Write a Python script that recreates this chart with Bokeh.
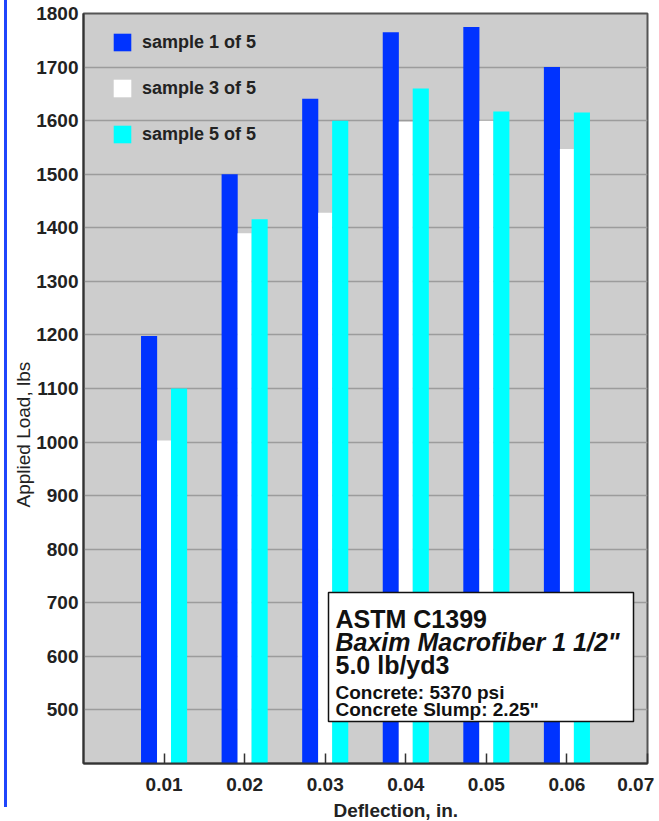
from bokeh.plotting import figure
from bokeh.models import (Range1d, FixedTicker, Label, BoxAnnotation, Title,
                          Legend, LegendItem, Div, ColumnDataSource)
from bokeh.layouts import row
from bokeh.transform import dodge
from bokeh.embed import file_html
from bokeh.resources import INLINE

# ---------------- data ----------------
deflection = [0.01, 0.02, 0.03, 0.04, 0.05, 0.06]
sample1 = [1198, 1500, 1641, 1765, 1775, 1700]
sample3 = [1003, 1390, 1428, 1598, 1600, 1547]
sample5 = [1100, 1416, 1600, 1660, 1617, 1615]
series_names = ["sample 1 of 5", "sample 3 of 5", "sample 5 of 5"]
x_ticks = [0.01, 0.02, 0.03, 0.04, 0.05, 0.06, 0.07]
y_ticks = [500, 600, 700, 800, 900, 1000, 1100, 1200, 1300, 1400, 1500, 1600, 1700, 1800]
y_min, y_max = 400, 1800
x_min, x_max = 0.0, 0.07
box_lines = ["ASTM C1399", "Baxim Macrofiber 1 1/2\"", "5.0 lb/yd3",
             "Concrete: 5370 psi", "Concrete Slump: 2.25\""]

FONT = "Liberation Sans"
TXT = "#222222"
NBSP = "\u00a0"

src = ColumnDataSource(dict(x=deflection, s1=sample1, s3=sample3, s5=sample5))

p = figure(width=652, height=820, x_range=Range1d(x_min, x_max),
           y_range=Range1d(y_min, y_max), output_backend="svg",
           toolbar_location=None, min_border_left=76, min_border_right=12,
           min_border_top=13, min_border_bottom=56)

p.background_fill_color = "#cdcdcd"
p.border_fill_color = "white"
p.outline_line_color = "#555555"
p.outline_line_width = 2

# bars
bw = 0.002
off = 0.00186
r1 = p.vbar(x=dodge("x", -off, range=p.x_range), top="s1", bottom=y_min, width=bw,
            source=src, fill_color="#0033ff", line_color=None)
r3 = p.vbar(x="x", top="s3", bottom=y_min, width=0.00174,
            source=src, fill_color="#ffffff", line_color=None)
r5 = p.vbar(x=dodge("x", off, range=p.x_range), top="s5", bottom=y_min, width=bw,
            source=src, fill_color="#00ffff", line_color=None)

# axes
p.xaxis.ticker = FixedTicker(ticks=x_ticks)
p.yaxis.ticker = FixedTicker(ticks=y_ticks)
# last label sits at the frame edge: pad it so it stays inside the page
p.xaxis.major_label_overrides = {x_ticks[-1]: "0.07" + NBSP}
for ax in (p.xaxis, p.yaxis):
    ax.axis_line_color = "#333333"
    ax.axis_line_width = 2
    ax.major_label_text_font = FONT
    ax.major_label_text_font_size = "19px"
    ax.major_label_text_font_style = "bold"
    ax.major_label_text_color = TXT
    ax.minor_tick_line_color = None
p.xaxis.major_tick_in = 10
p.xaxis.major_tick_out = 0
p.xaxis.major_tick_line_color = "#333333"
p.xaxis.major_tick_line_width = 1.5
p.xaxis.major_label_standoff = 10
p.yaxis.major_tick_line_color = None
p.yaxis.major_tick_in = 0
p.yaxis.major_tick_out = 0
p.yaxis.major_label_standoff = 5

p.xgrid.visible = False
p.ygrid.grid_line_color = "#9c9c9c"
p.ygrid.grid_line_width = 1.5

# axis titles
p.add_layout(Title(text="Applied Load, lbs", align="left", offset=256, standoff=0,
                   text_font=FONT, text_font_size="19px", text_font_style="normal",
                   text_color=TXT), "left")
p.add_layout(Title(text="Deflection, in.", align="left", offset=250, standoff=0,
                   text_font=FONT, text_font_size="19px", text_font_style="bold",
                   text_color=TXT), "below")

# legend
legend = Legend(items=[LegendItem(label=series_names[0], renderers=[r1]),
                       LegendItem(label=series_names[1], renderers=[r3]),
                       LegendItem(label=series_names[2], renderers=[r5])],
                location=(28, 618), glyph_width=22, glyph_height=22, spacing=24,
                label_standoff=9, label_height=22, padding=0, margin=0,
                label_text_font=FONT, label_text_font_size="18px",
                label_text_font_style="bold", label_text_color=TXT,
                background_fill_alpha=0, border_line_alpha=0)
p.add_layout(legend)

# annotation box
p.add_layout(BoxAnnotation(left=245, right=550, bottom=42, top=171,
                           left_units="screen", right_units="screen",
                           bottom_units="screen", top_units="screen",
                           fill_color="white", fill_alpha=1.0,
                           line_color="#111111", line_width=1.5, line_alpha=1.0))
styles = ["bold", "bold italic", "bold", "bold", "bold"]
sizes = ["25px", "25px", "25px", "19px", "19px"]
baselines = [145, 122, 99, 71, 54]
for t, st, sz, yb in zip(box_lines, styles, sizes, baselines):
    p.add_layout(Label(x=252, y=yb, x_units="screen", y_units="screen", text=t,
                       text_align="left", text_baseline="alphabetic",
                       text_font=FONT, text_font_size=sz, text_font_style=st,
                       text_color="#111111"))

bar = Div(text="", width=3, height=807, margin=(0, 0, 0, 4),
          styles={"background-color": "#1f45fc"})
layout = row(bar, p)

open("out.html", "w").write(file_html(layout, INLINE))
